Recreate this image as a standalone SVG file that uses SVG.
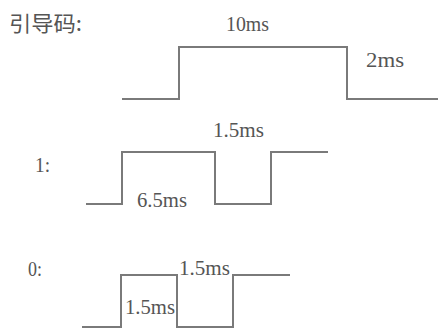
<svg xmlns="http://www.w3.org/2000/svg" width="438" height="328" viewBox="0 0 438 328">
<style>
.w{fill:none;stroke:#7a7a7a;stroke-width:2;stroke-linejoin:miter}
.t{font-family:"Liberation Serif","Times New Roman",serif;font-size:20px;fill:#555}
.c{font-family:"Noto Sans CJK SC","Noto Sans",sans-serif;font-size:21px;fill:#555}
</style>
<rect width="438" height="328" fill="#fff"/>
<g id="labels">
<text class="c" x="9" y="31" textLength="73" lengthAdjust="spacingAndGlyphs">引导码:</text>
<text class="t" x="35" y="172" textLength="15" lengthAdjust="spacingAndGlyphs">1:</text>
<text class="t" x="28" y="276" textLength="14" lengthAdjust="spacingAndGlyphs">0:</text>
</g>
<g id="connectors">
<polyline id="lead" class="w" points="122,99 179,99 179,47 347,47 347,99 438,99"/>
<polyline id="one" class="w" points="86,204 122,204 122,152 215,152 215,204 271,204 271,152 328,152"/>
<polyline id="zero" class="w" points="82,327 121,327 121,275 177,275 177,327 233,327 233,275 290,275"/>
</g>
<g id="timings">
<text class="t" x="226" y="31" textLength="43" lengthAdjust="spacingAndGlyphs">10ms</text>
<text class="t" x="366" y="67" textLength="38" lengthAdjust="spacingAndGlyphs">2ms</text>
<text class="t" x="213" y="137" textLength="51" lengthAdjust="spacingAndGlyphs">1.5ms</text>
<text class="t" x="137" y="207" textLength="50" lengthAdjust="spacingAndGlyphs">6.5ms</text>
<text class="t" x="179" y="275" textLength="51" lengthAdjust="spacingAndGlyphs">1.5ms</text>
<text class="t" x="125" y="314" textLength="50" lengthAdjust="spacingAndGlyphs">1.5ms</text>
</g>
</svg>
